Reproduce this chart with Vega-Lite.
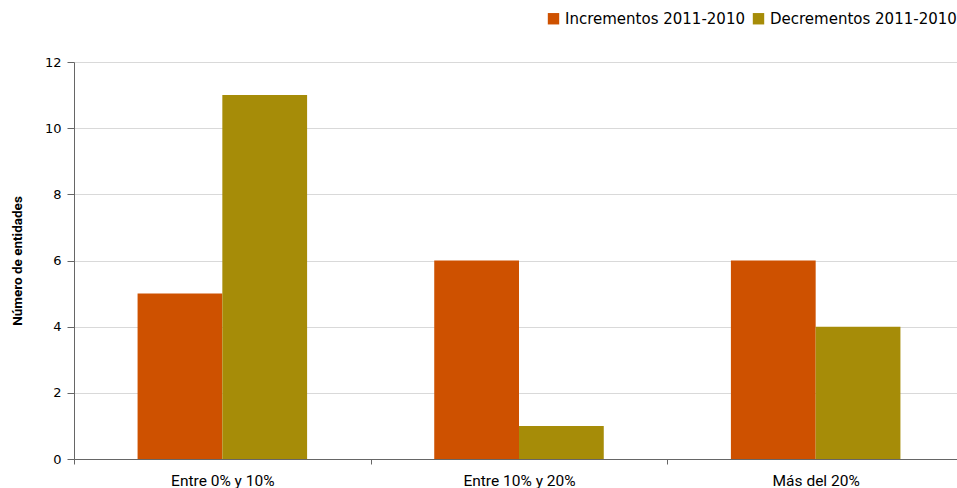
{
  "$schema": "https://vega.github.io/schema/vega-lite/v6.json",
  "autosize": {"type": "none"},
  "padding": {"left": 74, "top": 62, "right": 0, "bottom": 29},
  "width": 890,
  "height": 397,
  "background": "white",
  "data": {"values": [
    {"rango": "Entre 0% y 10%", "serie": "Incrementos 2011-2010", "n": 5},
    {"rango": "Entre 0% y 10%", "serie": "Decrementos 2011-2010", "n": 11},
    {"rango": "Entre 10% y 20%", "serie": "Incrementos 2011-2010", "n": 6},
    {"rango": "Entre 10% y 20%", "serie": "Decrementos 2011-2010", "n": 1},
    {"rango": "Más del 20%", "serie": "Incrementos 2011-2010", "n": 6},
    {"rango": "Más del 20%", "serie": "Decrementos 2011-2010", "n": 4}
  ]},
  "mark": {"type": "bar"},
  "encoding": {
    "x": {
      "field": "rango", "type": "nominal", "sort": null,
      "scale": {"paddingInner": 0, "paddingOuter": 0},
      "axis": {"title": null, "labelAngle": 0, "tickBand": "extent", "tickSize": 5,
               "labelPadding": 9, "labelFontSize": 15.5, "labelFont": "Roboto",
               "labelColor": "#000", "domainColor": "#666", "tickColor": "#666", "grid": false}
    },
    "xOffset": {
      "field": "serie", "type": "nominal",
      "sort": ["Incrementos 2011-2010", "Decrementos 2011-2010"],
      "scale": {"paddingInner": 0, "paddingOuter": 0.75}
    },
    "y": {
      "field": "n", "type": "quantitative",
      "scale": {"domain": [0, 12]},
      "axis": {"title": "Número de entidades", "values": [0, 2, 4, 6, 8, 10, 12],
               "titleFont": "Roboto", "titleFontSize": 13.5, "titleFontWeight": "bold",
               "titleColor": "#000", "titlePadding": 20,
               "labelFontSize": 13, "labelFont": "DejaVu Sans", "labelColor": "#000", "labelPadding": 6,
               "tickSize": 7, "tickColor": "#666", "domainColor": "#666",
               "gridColor": "#D9D9D9"}
    },
    "color": {
      "field": "serie", "type": "nominal",
      "sort": ["Incrementos 2011-2010", "Decrementos 2011-2010"],
      "scale": {"domain": ["Incrementos 2011-2010", "Decrementos 2011-2010"], "range": ["#CE5100", "#A68C08"]},
      "legend": {"title": null, "orient": "none", "direction": "horizontal",
                 "legendX": 472, "legendY": -51, "symbolType": "square", "symbolSize": 130,
                 "symbolStrokeWidth": 0, "labelFontSize": 15, "labelFont": "DejaVu Sans", "labelColor": "#000",
                 "labelLimit": 400, "columnPadding": 6, "labelOffset": 4}
    }
  },
  "config": {"view": {"stroke": null}}
}
